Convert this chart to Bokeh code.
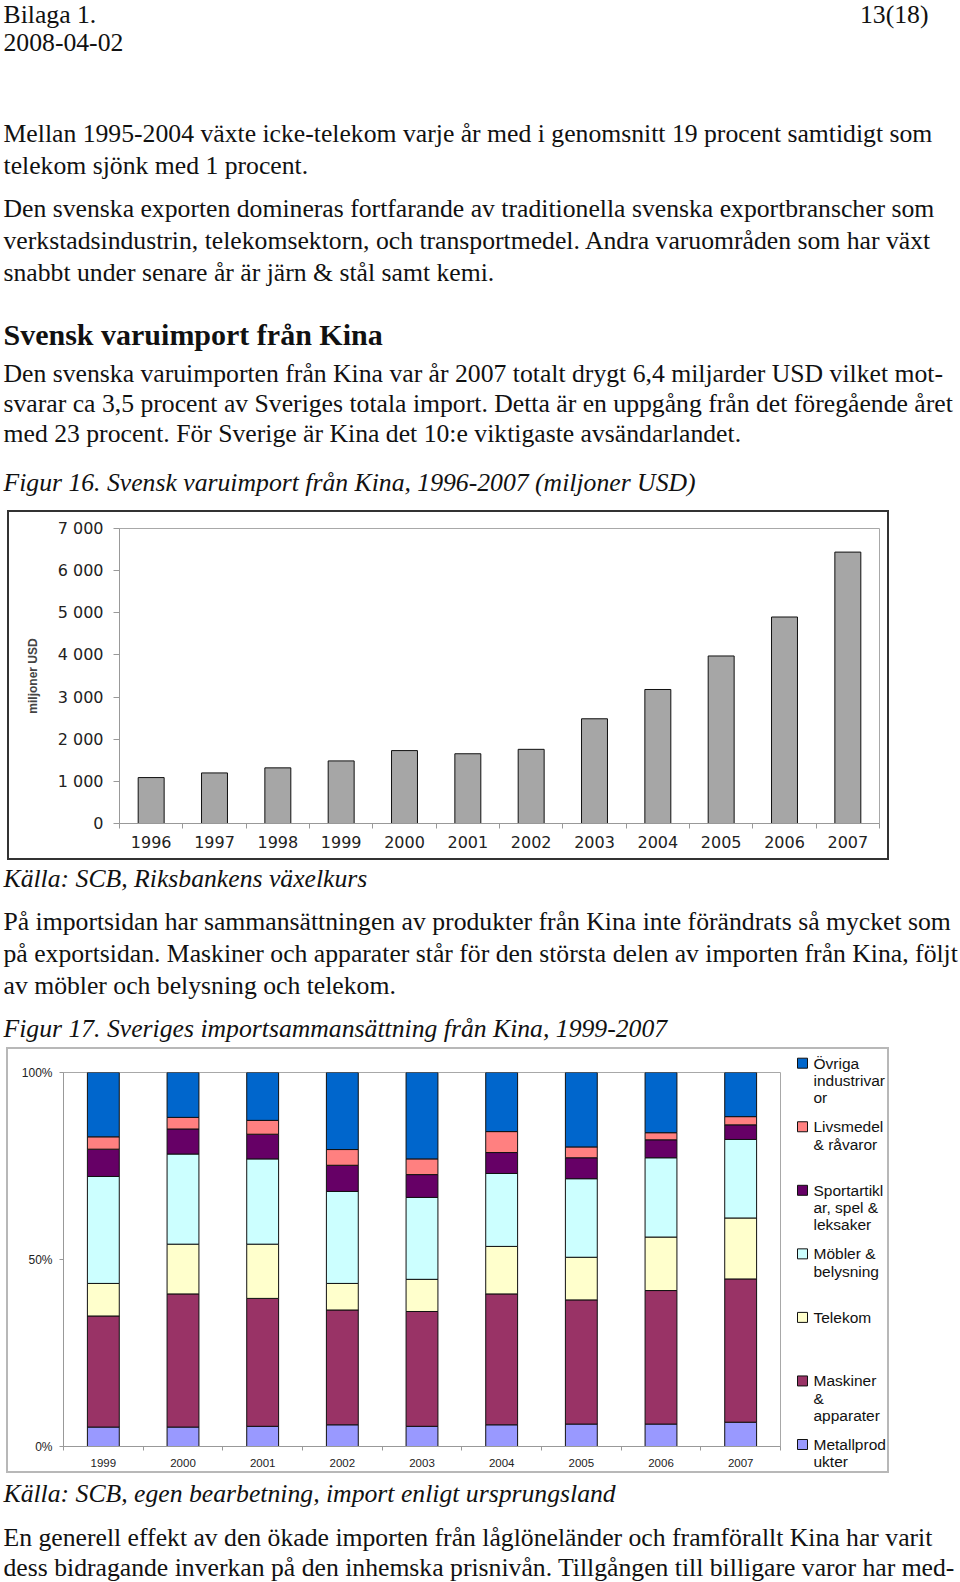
from bokeh.plotting import figure
from bokeh.layouts import column, row
from bokeh.models import Range1d, FixedTicker, ColumnDataSource
from bokeh.core.properties import value
from bokeh.embed import file_html
from bokeh.resources import INLINE

# ---------------- data ----------------
years16 = ["1996", "1997", "1998", "1999", "2000", "2001", "2002", "2003", "2004", "2005", "2006", "2007"]
import_musd = [1090, 1200, 1320, 1485, 1730, 1655, 1760, 2485, 3180, 3975, 4900, 6440]
y16_ticks = [0, 1000, 2000, 3000, 4000, 5000, 6000, 7000]
y16_tick_labels = ["0", "1 000", "2 000", "3 000", "4 000", "5 000", "6 000", "7 000"]
y16_title = "miljoner USD"

years17 = ["1999", "2000", "2001", "2002", "2003", "2004", "2005", "2006", "2007"]
metallprodukter = [5.2, 5.2, 5.4, 5.8, 5.4, 5.8, 6.0, 6.0, 6.5]
maskiner = [29.7, 35.6, 34.2, 30.7, 30.7, 35.0, 33.2, 35.7, 38.3]
telekom = [8.7, 13.3, 14.5, 7.1, 8.6, 12.7, 11.4, 14.3, 16.3]
mobler = [28.6, 24.1, 22.8, 24.6, 21.9, 19.5, 21.0, 21.2, 21.0]
sportartiklar = [7.3, 6.7, 6.6, 7.0, 6.1, 5.6, 5.6, 4.8, 3.9]
livsmedel = [3.3, 3.1, 3.7, 4.2, 4.2, 5.6, 2.9, 1.9, 2.2]
ovriga = [17.2, 12.0, 12.8, 20.6, 23.1, 15.8, 19.9, 16.1, 11.8]
y17_ticks = [0, 50, 100]
y17_tick_labels = ["0%", "50%", "100%"]
series17 = ["Metallprodukter", "Maskiner & apparater", "Telekom", "Möbler & belysning",
            "Sportartiklar, spel & leksaker", "Livsmedel & råvaror", "Övriga industrivaror"]
colors17 = ["#9999FF", "#993366", "#FFFFCC", "#CCFFFF", "#660066", "#FF8080", "#0066CC"]
legend_lines = [  # top-to-bottom legend order, wrapped as in the original
    (6, ["Övriga", "industrivar", "or"]),
    (5, ["Livsmedel", "& råvaror"]),
    (4, ["Sportartikl", "ar, spel &", "leksaker"]),
    (3, ["Möbler &", "belysning"]),
    (2, ["Telekom"]),
    (1, ["Maskiner", "&", "apparater"]),
    (0, ["Metallprod", "ukter"]),
]

header_left = ["Bilaga 1.", "2008-04-02"]
header_right = "13(18)"
para1 = ["Mellan 1995-2004 växte icke-telekom varje år med i genomsnitt 19 procent samtidigt som",
         "telekom sjönk med 1 procent."]
para2 = ["Den svenska exporten domineras fortfarande av traditionella svenska exportbranscher som",
         "verkstadsindustrin, telekomsektorn, och transportmedel. Andra varuområden som har växt",
         "snabbt under senare år är järn & stål samt kemi."]
heading = "Svensk varuimport från Kina"
para3 = ["Den svenska varuimporten från Kina var år 2007 totalt drygt 6,4 miljarder USD vilket mot-",
         "svarar ca 3,5 procent av Sveriges totala import. Detta är en uppgång från det föregående året",
         "med 23 procent. För Sverige är Kina det 10:e viktigaste avsändarlandet."]
caption16 = "Figur 16. Svensk varuimport från Kina, 1996-2007 (miljoner USD)"
source16 = "Källa: SCB, Riksbankens växelkurs"
para4 = ["På importsidan har sammansättningen av produkter från Kina inte förändrats så mycket som",
         "på exportsidan. Maskiner och apparater står för den största delen av importen från Kina, följt",
         "av möbler och belysning och telekom."]
caption17 = "Figur 17. Sveriges importsammansättning från Kina, 1999-2007"
source17 = "Källa: SCB, egen bearbetning, import enligt ursprungsland"
para5 = ["En generell effekt av den ökade importen från låglöneländer och framförallt Kina har varit",
         "dess bidragande inverkan på den inhemska prisnivån. Tillgången till billigare varor har med-"]

# ---------------- helpers ----------------
W = 960
SERIF = "Liberation Serif"
SANS = "Liberation Sans"
BODY = 25.7
INK = "#111111"
BASE_SHIFT = 0.32  # empirical correction of the rendered alphabetic baseline (in em)


def no_align(p):
    if hasattr(p, "frame_align"):
        p.frame_align = False
    return p


def canvas_fig(w, h, x0, y0):
    """A figure whose frame is the whole canvas, in page pixel coordinates."""
    p = figure(width=w, height=h, x_range=Range1d(x0, x0 + w), y_range=Range1d(y0 + h, y0),
               output_backend="svg", toolbar_location=None, min_border=0,
               x_axis_location=None, y_axis_location=None)
    p.grid.visible = False
    p.outline_line_color = None
    return no_align(p)


def put(p, txt, x, y, size=BODY, style="normal", align="left"):
    p.text(x=[x], y=[y - BASE_SHIFT * size], text=[txt], text_font=value(SERIF),
           text_font_size=f"{size}px", text_font_style=style, text_baseline="alphabetic",
           text_align=align, text_color=INK)


# ---------------- top text block (page y 0..505) ----------------
top = canvas_fig(W, 505, 0, 0)
put(top, header_left[0], 3, 22)
put(top, header_right, 928, 22, align="right")
put(top, header_left[1], 3, 50)
for i, s in enumerate(para1):
    put(top, s, 3, 141.7 + i * 31.7)
for i, s in enumerate(para2):
    put(top, s, 3, 216 + i * 32)
put(top, heading, 3, 343.3, size=30, style="bold")
for i, s in enumerate(para3):
    put(top, s, 3, 381.7 + i * 30)
put(top, caption16, 3, 490, style="italic")

# ---------------- Figure 16 chart: box x 7..889, y 510..860 ----------------
idx16 = list(range(len(years16)))
p1 = figure(width=878, height=346, x_range=Range1d(-0.5, len(years16) - 0.5), y_range=Range1d(0, 7000),
            output_backend="svg", toolbar_location=None,
            min_border_left=119 - 9, min_border_right=887 - 879, min_border_top=528 - 512,
            min_border_bottom=858 - 823)
no_align(p1)
p1.vbar(x=idx16, top=import_musd, width=0.41, fill_color="#A6A6A6", line_color="#111111", line_width=1)
p1.grid.visible = False
p1.outline_line_color = "#A8A8A8"
p1.xaxis.ticker = FixedTicker(ticks=idx16, minor_ticks=[i - 0.5 for i in range(len(years16) + 1)])
p1.xaxis.major_label_overrides = {i: y for i, y in enumerate(years16)}
p1.xaxis.major_tick_line_color = None
p1.xaxis.major_tick_out = 0
p1.xaxis.major_tick_in = 0
p1.xaxis.minor_tick_out = 5
p1.xaxis.minor_tick_in = 0
p1.xaxis.minor_tick_line_color = "#999999"
p1.xaxis.major_label_standoff = 7
p1.yaxis.ticker = FixedTicker(ticks=y16_ticks, minor_ticks=[])
p1.yaxis.major_label_overrides = dict(zip(y16_ticks, y16_tick_labels))
p1.yaxis.major_tick_out = 6
p1.yaxis.major_tick_in = 0
p1.yaxis.major_tick_line_color = "#999999"
p1.yaxis.major_label_standoff = 10
p1.yaxis.axis_label = y16_title
p1.yaxis.axis_label_text_font = SANS
p1.yaxis.axis_label_text_font_style = "bold"
p1.yaxis.axis_label_text_font_size = "12px"
p1.yaxis.axis_label_standoff = 15
for ax in (p1.xaxis, p1.yaxis):
    ax.axis_line_color = "#999999"
    ax.major_label_text_font = "DejaVu Sans"
    ax.major_label_text_font_size = "16px"
    ax.major_label_text_color = "#222222"
chart1 = column(p1, spacing=0, styles={"border": "2px solid #333333"}, margin=(5, 0, 5, 7))

# ---------------- middle text block (page y 865..1043) ----------------
mid = canvas_fig(W, 1043 - 865, 0, 865)
put(mid, source16, 3, 886.7, style="italic")
for i, s in enumerate(para4):
    put(mid, s, 3, 929 + i * 32.3)
put(mid, caption17, 3, 1036, style="italic")

# ---------------- Figure 17 chart: box x 6..889, y 1047..1473 ----------------
idx17 = list(range(len(years17)))
src = ColumnDataSource(dict(x=idx17, s0=metallprodukter, s1=maskiner, s2=telekom, s3=mobler,
                            s4=sportartiklar, s5=livsmedel, s6=ovriga))
keys = ["s0", "s1", "s2", "s3", "s4", "s5", "s6"]
p2 = figure(width=790 - 8, height=1471 - 1049, x_range=Range1d(-0.5, len(years17) - 0.5),
            y_range=Range1d(0, 100), output_backend="svg", toolbar_location=None,
            min_border_left=63 - 8, min_border_right=790 - 780, min_border_top=1072 - 1049,
            min_border_bottom=1471 - 1446)
no_align(p2)
p2.vbar_stack(keys, x="x", width=0.40, color=colors17, line_color="#111111", line_width=1, source=src)
p2.grid.visible = False
p2.outline_line_color = "#A8A8A8"
p2.xaxis.ticker = FixedTicker(ticks=idx17, minor_ticks=[i - 0.5 for i in range(len(years17) + 1)])
p2.xaxis.major_label_overrides = {i: y for i, y in enumerate(years17)}
p2.xaxis.major_tick_line_color = None
p2.xaxis.major_tick_out = 0
p2.xaxis.major_tick_in = 0
p2.xaxis.minor_tick_out = 4
p2.xaxis.minor_tick_in = 0
p2.xaxis.minor_tick_line_color = "#999999"
p2.xaxis.major_label_standoff = 8
p2.xaxis.major_label_text_font_size = "11.5px"
p2.yaxis.ticker = FixedTicker(ticks=y17_ticks, minor_ticks=[])
p2.yaxis.major_label_overrides = dict(zip(y17_ticks, y17_tick_labels))
p2.yaxis.major_tick_out = 4
p2.yaxis.major_tick_in = 0
p2.yaxis.major_tick_line_color = "#999999"
p2.yaxis.major_label_standoff = 7
p2.yaxis.major_label_text_font_size = "12px"
for ax in (p2.xaxis, p2.yaxis):
    ax.axis_line_color = "#999999"
    ax.major_label_text_font = SANS
    ax.major_label_text_color = "#222222"

# legend panel (page coordinates)
leg = canvas_fig(887 - 790, 1471 - 1049, 790, 1049)
first_line = 1062.7
entry_gap = 63.55
line_gap = 17.3
sq_l, sq_r, txt_x = 797, 807, 813
for k, (si, lines) in enumerate(legend_lines):
    cy = first_line + k * entry_gap
    leg.quad(left=[sq_l], right=[sq_r], top=[cy - 5], bottom=[cy + 5],
             fill_color=colors17[si], line_color="#111111", line_width=1)
    for j, ln in enumerate(lines):
        leg.text(x=[txt_x], y=[cy + j * line_gap], text=[ln], text_font=value(SANS),
                 text_font_size="15.5px", text_baseline="middle", text_align="left", text_color="#111111")

chart2 = column(row(p2, leg, spacing=0), spacing=0,
                styles={"border": "2px solid #B8B8B8"}, margin=(4, 0, 5, 6))

# ---------------- bottom text block (page y 1478..1582) ----------------
bot = canvas_fig(W, 1582 - 1478, 0, 1478)
put(bot, source17, 3, 1501.7, style="italic")
for i, s in enumerate(para5):
    put(bot, s, 3, 1545 + i * 30.5)

page = column(top, chart1, mid, chart2, bot, spacing=0)
open("out.html", "w").write(file_html(page, INLINE))
